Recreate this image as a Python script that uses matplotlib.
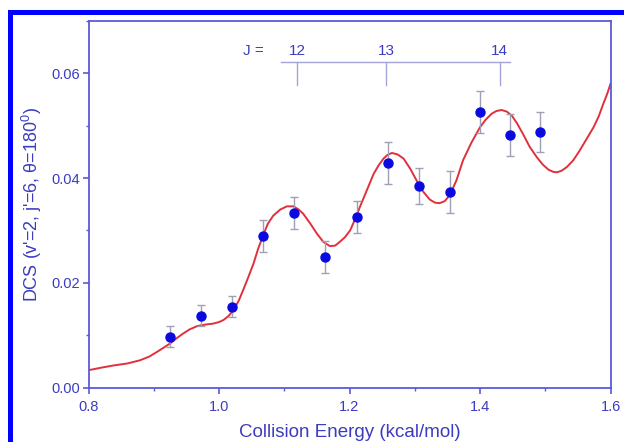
import matplotlib
matplotlib.use("Agg")
import matplotlib.pyplot as plt
from matplotlib.patches import Rectangle
from matplotlib.ticker import MultipleLocator

plt.rcParams['font.family'] = ['Liberation Sans', 'DejaVu Sans']
plt.rcParams['mathtext.fontset'] = 'custom'
plt.rcParams['mathtext.rm'] = 'Liberation Sans'
plt.rcParams['mathtext.it'] = 'Liberation Sans:italic'

# Experimental data
exp_energy = [0.925, 0.972, 1.020, 1.067, 1.115, 1.163, 1.211, 1.259, 1.306, 1.354, 1.400, 1.446, 1.492]
exp_dcs = [0.0097, 0.0137, 0.0154, 0.0289, 0.0333, 0.0249, 0.0326, 0.0429, 0.0385, 0.0373, 0.0526, 0.0483, 0.0488]
exp_err = [0.0020, 0.0020, 0.0020, 0.0030, 0.0030, 0.0030, 0.0030, 0.0040, 0.0035, 0.0040, 0.0040, 0.0040, 0.0038]

# Theoretical curve
theo_energy = [0.800, 0.820, 0.838, 0.860, 0.879, 0.893, 0.905, 0.915, 0.925, 0.935, 0.945, 0.955,
               0.966, 0.978, 0.991, 1.000, 1.007, 1.015, 1.022, 1.030, 1.037, 1.045, 1.053, 1.060,
               1.068, 1.075, 1.083, 1.094, 1.104, 1.114, 1.122, 1.129, 1.140, 1.150, 1.160, 1.170,
               1.178, 1.185, 1.193, 1.201, 1.208, 1.216, 1.227, 1.237, 1.245, 1.252, 1.258, 1.265,
               1.274, 1.283, 1.293, 1.303, 1.313, 1.323, 1.331, 1.338, 1.346, 1.354, 1.364, 1.374,
               1.387, 1.400, 1.409, 1.418, 1.425, 1.433, 1.441, 1.449, 1.457, 1.466, 1.476, 1.487,
               1.496, 1.505, 1.512, 1.518, 1.525, 1.533, 1.543, 1.553, 1.563, 1.574, 1.582, 1.589,
               1.595, 1.600]
theo_dcs = [0.0033, 0.0038, 0.0042, 0.0046, 0.0052, 0.0059, 0.0068, 0.0076, 0.0084, 0.0094, 0.0103, 0.0111,
            0.0117, 0.0120, 0.0122, 0.0125, 0.0129, 0.0137, 0.0148, 0.0165, 0.0186, 0.0211, 0.0237, 0.0265,
            0.0292, 0.0313, 0.0328, 0.0340, 0.0346, 0.0346, 0.0340, 0.0332, 0.0313, 0.0294, 0.0278, 0.0270,
            0.0271, 0.0278, 0.0287, 0.0300, 0.0320, 0.0345, 0.0378, 0.0408, 0.0425, 0.0437, 0.0444, 0.0448,
            0.0445, 0.0437, 0.0418, 0.0395, 0.0374, 0.0359, 0.0353, 0.0352, 0.0356, 0.0368, 0.0396, 0.0434,
            0.0468, 0.0497, 0.0512, 0.0523, 0.0528, 0.0530, 0.0527, 0.0519, 0.0504, 0.0484, 0.0460, 0.0440,
            0.0426, 0.0416, 0.0412, 0.0411, 0.0414, 0.0421, 0.0434, 0.0453, 0.0474, 0.0497, 0.0518, 0.0542,
            0.0561, 0.0580]

# J resonance markers
j_labels = ['12', '13', '14']
j_energy = [1.120, 1.256, 1.430]

axis_color = '#5a5ad8'
text_color = '#3c3cc0'

fig = plt.figure(figsize=(6.24, 4.42), dpi=100)
fig.patch.set_facecolor('white')
# blue frame (top and left)
fig.patches.append(Rectangle((8/624, 0), 5/624, 1 - 10/442, transform=fig.transFigure,
                             facecolor='#0000ff', edgecolor='none'))
fig.patches.append(Rectangle((8/624, 1 - 15/442), 1 - 8/624, 5/442, transform=fig.transFigure,
                             facecolor='#0000ff', edgecolor='none'))

ax = fig.add_axes([88.5/624, 1 - 387.5/442, 522/624, 366.5/442])

ax.plot(theo_energy, theo_dcs, color='#e0303c', lw=1.4, zorder=2, solid_joinstyle='round')
ax.errorbar(exp_energy, exp_dcs, yerr=exp_err, fmt='o', color='#0a0ae0', ms=6.5,
            ecolor='#a0a0b4', elinewidth=1.0, capsize=3, capthick=1.0, zorder=3)

ax.set_xlim(0.8, 1.6)
ax.set_ylim(0.0, 0.07)
ax.xaxis.set_minor_locator(MultipleLocator(0.1))
ax.yaxis.set_minor_locator(MultipleLocator(0.01))
ax.set_xticks([0.8, 1.0, 1.2, 1.4, 1.6])
ax.set_xticklabels(['0.8', '1.0', '1.2', '1.4', '1.6'])
ax.set_yticks([0.0, 0.02, 0.04, 0.06])
ax.set_yticklabels(['0.00', '0.02', '0.04', '0.06'])

for s in ax.spines.values():
    s.set_color(axis_color)
    s.set_linewidth(1.3)
ax.tick_params(which='major', direction='out', length=4, width=1.2, color=axis_color,
               labelcolor=text_color, labelsize=10.5)
ax.tick_params(axis='x', which='major', pad=5)
ax.tick_params(axis='y', which='major', pad=2)
ax.tick_params(which='minor', direction='out', length=2.5, width=1.0, color=axis_color)

ax.set_xlabel('Collision Energy (kcal/mol)', color=text_color, fontsize=13.5, labelpad=7)
ax.set_ylabel("DCS (v'=2, j'=6, θ=180$^{0}$)", color=text_color, fontsize=13, labelpad=5)

# J bracket
line_color = '#a4a4d8'
ax.plot([1.095, 1.446], [0.0621, 0.0621], color=line_color, lw=1.0)
for lab, e in zip(j_labels, j_energy):
    ax.plot([e, e], [0.0621, 0.0577], color=line_color, lw=1.0)
    ax.text(e, 0.0643, lab, ha='center', va='center', color=text_color, fontsize=11)
ax.text(1.053, 0.0643, 'J =', ha='center', va='center', color=text_color, fontsize=11)

fig.savefig('out.png', dpi=100)
